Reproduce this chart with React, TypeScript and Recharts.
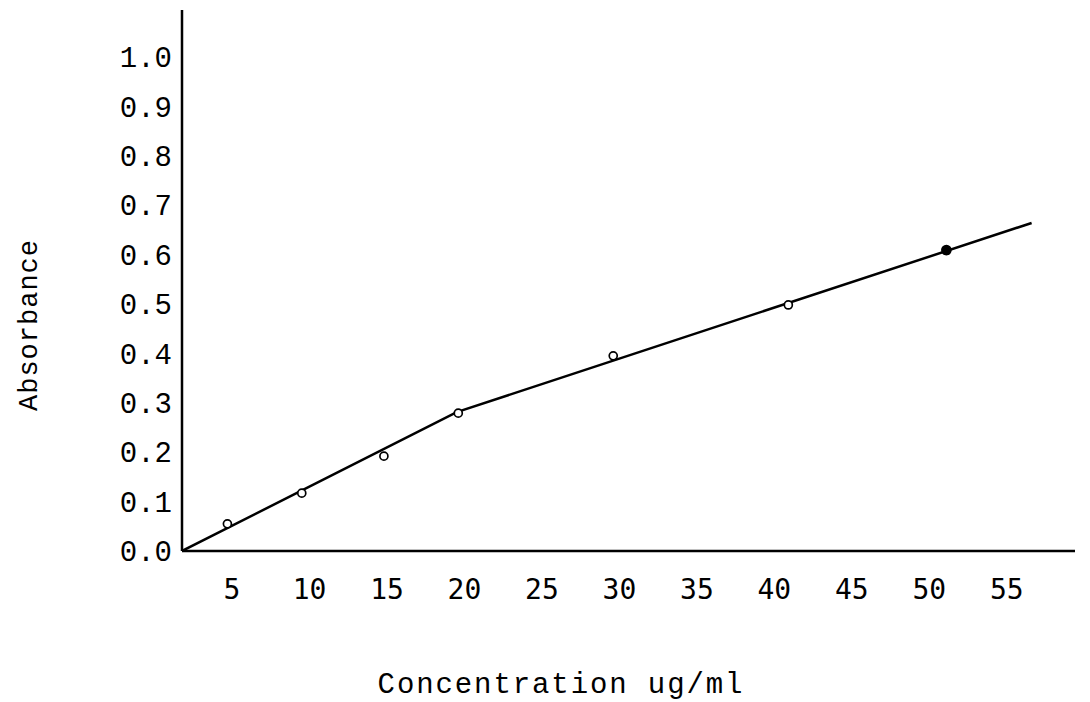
import React from "react";
import { ComposedChart, Line, Scatter, XAxis, YAxis, Label } from "recharts";

// measured points (hand plotted)
const concentration = [4.7, 9.5, 14.8, 19.6, 29.6, 40.9, 51.1];
const absorbance = [0.055, 0.117, 0.192, 0.279, 0.395, 0.498, 0.609];
const filledPoint = [false, false, false, false, false, false, true];

// drawn calibration line (two straight segments)
const fitConcentration = [1.77, 19.5, 56.6];
const fitAbsorbance = [0, 0.281, 0.664];

const xTicks = [5, 10, 15, 20, 25, 30, 35, 40, 45, 50, 55];
const yTicks = [0, 0.1, 0.2, 0.3, 0.4, 0.5, 0.6, 0.7, 0.8, 0.9, 1.0];

const points = concentration.map((c, i) => ({ conc: c, abs: absorbance[i], filled: filledPoint[i] }));
const fitLine = fitConcentration.map((c, i) => ({ conc: c, abs: fitAbsorbance[i] }));

const FONT = "'Liberation Mono', 'DejaVu Sans Mono', monospace";

const PointShape = (props: any) => {
    const { cx, cy, payload } = props;
    return (
        <circle
            cx={cx}
            cy={cy}
            r={payload.filled ? 4.5 : 4}
            fill={payload.filled ? "#000" : "#fff"}
            stroke="#000"
            strokeWidth={1.7}
        />
    );
};

export default function App() {
    return (
        <div style={{ position: "absolute", left: 0, top: 0, background: "#fff" }}>
            <ComposedChart width={1090} height={702} margin={{ top: 10, right: 15, bottom: 0, left: 0 }}>
                <XAxis
                    type="number"
                    dataKey="conc"
                    domain={[1.77, 59.4]}
                    ticks={xTicks}
                    allowDataOverflow
                    height={151}
                    axisLine={{ stroke: "#000", strokeWidth: 2.5 }}
                    tickLine={false}
                    tickSize={0}
                    tickMargin={28}
                    tick={{ fill: "#000", fontSize: 28, fontFamily: "'DejaVu Sans Mono', monospace" }}
                >
                    <Label
                        content={() => (
                            <text x={561} y={693} textAnchor="middle" fontFamily={FONT} fontSize={29} letterSpacing={1.9} fill="#000">
                                Concentration ug/ml
                            </text>
                        )}
                    />
                </XAxis>
                <YAxis
                    type="number"
                    dataKey="abs"
                    domain={[0, 1.095]}
                    ticks={yTicks}
                    allowDataOverflow
                    width={182}
                    axisLine={{ stroke: "#000", strokeWidth: 2.5 }}
                    tickLine={false}
                    tickSize={0}
                    tickMargin={10}
                    tickFormatter={(v: number) => v.toFixed(1)}
                    tick={{ fill: "#000", fontSize: 29, fontFamily: FONT }}
                >
                    <Label
                        content={() => (
                            <text
                                x={30}
                                y={325}
                                transform="rotate(-90 30 325)"
                                textAnchor="middle"
                                dominantBaseline="middle"
                                fontFamily={FONT}
                                fontSize={27}
                                letterSpacing={1}
                                fill="#000"
                            >
                                Absorbance
                            </text>
                        )}
                    />
                </YAxis>
                <Line
                    data={fitLine}
                    dataKey="abs"
                    type="linear"
                    stroke="#000"
                    strokeWidth={2.5}
                    dot={false}
                    activeDot={false}
                    isAnimationActive={false}
                />
                <Scatter data={points} dataKey="abs" shape={<PointShape />} isAnimationActive={false} />
            </ComposedChart>
        </div>
    );
}
